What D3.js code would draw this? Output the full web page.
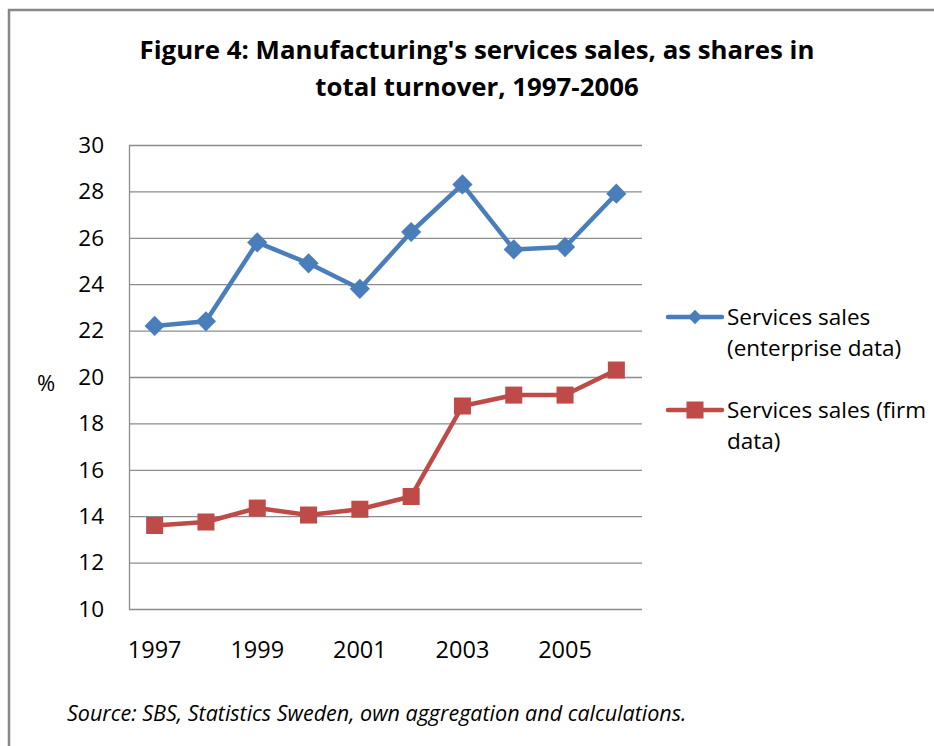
<!DOCTYPE html>
<html>
<head>
<meta charset="utf-8">
<script src="https://cdn.jsdelivr.net/npm/d3@7"></script>
<style>
  html, body { margin: 0; padding: 0; background: #fff; }
  svg { display: block; }
</style>
</head>
<body>
<script>
const years = ["1997","1998","1999","2000","2001","2002","2003","2004","2005","2006"];
const xTickLabels = ["1997","1999","2001","2003","2005"];
const enterprise = [22.2, 22.4, 25.8, 24.9, 23.8, 26.25, 28.3, 25.5, 25.6, 27.9];
const firm = [13.6, 13.75, 14.35, 14.05, 14.3, 14.85, 18.75, 19.22, 19.22, 20.3];
const yTicks = [10, 12, 14, 16, 18, 20, 22, 24, 26, 28, 30];
const seriesNames = [["Services sales", "(enterprise data)"], ["Services sales (firm", "data)"]];
const titleLines = ["Figure 4: Manufacturing's services sales, as shares in", "total turnover, 1997-2006"];
const sourceText = "Source: SBS, Statistics Sweden, own aggregation and calculations.";

const W = 934, H = 746;
const font = "'Open Sans', 'Liberation Sans', sans-serif";
const blue = "#4A7EBB", red = "#BE4B48", grid = "#8c8c8c";

const svg = d3.select("body").append("svg").attr("width", W).attr("height", H);

// frame
svg.append("path").attr("d", `M9,${H} L9,10 L${W},10`)
  .attr("fill", "none").attr("stroke", "#888").attr("stroke-width", 2.5);

const plot = {left: 129, top: 145, right: 642, bottom: 609};
const x = d3.scaleBand().domain(years).range([plot.left, plot.right]);
const y = d3.scaleLinear().domain([10, 30]).range([plot.bottom, plot.top]);
const cx = d => x(d) + x.bandwidth() / 2;

// title
svg.append("g").selectAll("text").data(titleLines).join("text")
  .attr("x", 477).attr("y", (d, i) => 59 + i * 37)
  .attr("text-anchor", "middle")
  .attr("font-family", font).attr("font-weight", "bold").attr("font-size", 25.8)
  .attr("fill", "#000").text(d => d);

// gridlines
svg.append("g").selectAll("line").data(yTicks).join("line")
  .attr("x1", plot.left).attr("x2", plot.right)
  .attr("y1", d => y(d) + 0.5).attr("y2", d => y(d) + 0.5)
  .attr("stroke", grid).attr("stroke-width", 1.3);

// y axis
const yAxis = d3.axisLeft(y).tickValues(yTicks).tickSize(0).tickPadding(25);
const gy = svg.append("g").attr("transform", `translate(${plot.left},0)`).call(yAxis);
gy.select(".domain").attr("stroke", grid).attr("stroke-width", 1.3);
gy.selectAll("text").attr("font-family", font).attr("font-size", 22.5).attr("fill", "#000");

// x axis
const xAxis = d3.axisBottom(x).tickValues(xTickLabels).tickSize(0).tickPadding(32);
const gx = svg.append("g").attr("transform", `translate(0,${plot.bottom})`).call(xAxis);
gx.select(".domain").remove();
gx.selectAll("text").attr("font-family", font).attr("font-size", 23.5).attr("fill", "#000");

// % label
svg.append("text").attr("x", 46).attr("y", 391).attr("text-anchor", "middle")
  .attr("font-family", font).attr("font-size", 22).text("%");

const line = d3.line().x((d, i) => cx(years[i])).y(d => y(d));

function drawSeries(vals, color, symType, symSize) {
  svg.append("path").datum(vals).attr("d", line)
    .attr("fill", "none").attr("stroke", color).attr("stroke-width", 4.5)
    .attr("stroke-linejoin", "round");
  const sym = d3.symbol().type(symType).size(symSize);
  svg.append("g").selectAll("path").data(vals).join("path")
    .attr("transform", (d, i) => `translate(${cx(years[i])},${y(d)})`)
    .attr("d", sym).attr("fill", color);
}
drawSeries(enterprise, blue, d3.symbolDiamond2, 260);
drawSeries(firm, red, d3.symbolSquare, 290);

// legend
const legend = [
  {color: blue, sym: d3.symbolDiamond2, size: 130, y: 317, lines: seriesNames[0]},
  {color: red, sym: d3.symbolSquare, size: 290, y: 410, lines: seriesNames[1]}
];
legend.forEach(l => {
  svg.append("line").attr("x1", 668).attr("x2", 722).attr("y1", l.y).attr("y2", l.y)
    .attr("stroke", l.color).attr("stroke-width", 4.5).attr("stroke-linecap", "round");
  svg.append("path").attr("transform", `translate(695,${l.y})`)
    .attr("d", d3.symbol().type(l.sym).size(l.size)).attr("fill", l.color);
  svg.append("g").selectAll("text").data(l.lines).join("text")
    .attr("x", 727).attr("y", (d, i) => l.y + 8 + i * 30.5)
    .attr("font-family", font).attr("font-size", 22.5).attr("fill", "#000").text(d => d);
});

// source
svg.append("text").attr("x", 67).attr("y", 721)
  .attr("font-family", font).attr("font-style", "italic").attr("font-size", 21.5)
  .attr("fill", "#000").text(sourceText);
</script>
</body>
</html>
